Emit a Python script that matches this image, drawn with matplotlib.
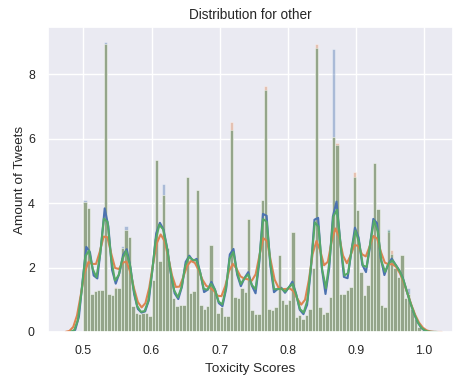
import numpy as np
import matplotlib
matplotlib.use("Agg")
import matplotlib.pyplot as plt
import seaborn as sns

# Histogram layout: 100 bins of width 0.005 from 0.5 to 1.0 (density scale)
bin_start = 0.5
bin_width = 0.005

# Shared bar heights per bin (density)
base_heights = [
    4.04, 3.85, 1.19, 1.27, 1.31, 1.31, 8.93, 1.19, 1.14, 1.35,
    1.35, 2.60, 3.15, 2.95, 0.80, 0.60, 0.57, 0.60, 0.58, 0.50,
    1.60, 5.33, 2.20, 4.25, 2.60, 1.80, 1.05, 0.80, 0.85, 0.85,
    4.80, 1.20, 1.27, 4.40, 0.83, 0.72, 0.80, 2.69, 1.30, 0.60,
    0.78, 0.50, 0.50, 6.26, 1.09, 1.04, 1.35, 1.24, 3.52, 0.67,
    0.57, 0.57, 4.09, 7.50, 0.72, 0.67, 0.78, 2.40, 1.00, 0.88,
    1.00, 3.10, 0.47, 0.52, 0.41, 0.52, 0.72, 2.00, 8.80, 0.78,
    0.57, 0.62, 1.09, 6.05, 5.80, 1.19, 1.19, 1.29, 1.40, 4.80,
    3.78, 1.86, 1.14, 1.45, 3.00, 5.23, 3.83, 0.83, 0.78, 3.10,
    2.43, 1.97, 1.72, 2.38, 1.04, 1.19, 0.70, 0.41, 0.15, 0.05,
]

# Bins where a series' bar differs from the shared heights
blue_diff = {0: 4.08, 6: 9.00, 11: 2.66, 12: 3.30, 23: 4.60, 73: 8.77, 89: 3.18, 95: 1.35}
orange_diff = {9: 1.40, 43: 6.52, 53: 7.62, 68: 8.93, 74: 5.85, 79: 4.97, 90: 2.55}
green_diff = {21: 5.35, 30: 4.82, 57: 2.40, 89: 3.16}

# Smoothing bandwidths of the density curves
bandwidths = {"blue": 0.0058, "orange": 0.0087, "green": 0.0063}

title = "Distribution for other"
x_label = "Toxicity Scores"
y_label = "Amount of Tweets"
x_ticks = [0.5, 0.6, 0.7, 0.8, 0.9, 1.0]
y_ticks = [0, 2, 4, 6, 8]


def heights_with(diff):
    vals = list(base_heights)
    for k, h in diff.items():
        vals[k] = h
    return np.array(vals)


def smoothed_density(vals, edges, bw):
    centers = edges[:-1] + np.diff(edges) / 2
    grid = np.linspace(edges[0] - 3 * bw, edges[-1] + 3 * bw, 100)
    w = vals * np.diff(edges)
    z = (grid[:, None] - centers[None, :]) / bw
    dens = (w[None, :] * np.exp(-0.5 * z ** 2)).sum(axis=1) / (bw * np.sqrt(2 * np.pi))
    return grid, dens


sns.set_theme(style="darkgrid")
plt.rcParams["font.family"] = ["Liberation Sans", "DejaVu Sans"]

fig = plt.figure(figsize=(4.53, 3.77), dpi=100)
ax = fig.add_axes([48 / 453, 45 / 377, 405 / 453, 305 / 377])

n = len(base_heights)
edges = bin_start + bin_width * np.arange(n + 1)
shared = np.array(base_heights)
palette = sns.color_palette()

series = [
    (heights_with(blue_diff), palette[0], bandwidths["blue"]),
    (heights_with(orange_diff), palette[1], bandwidths["orange"]),
    (heights_with(green_diff), palette[2], bandwidths["green"]),
]

for vals, col, bw in series:
    ax.bar(edges[:-1], vals, width=bin_width, align="edge", color=col,
           alpha=0.4, edgecolor="white", linewidth=0.6)
    grid, dens = smoothed_density(shared, edges, bw)
    ax.plot(grid, dens, color=col, lw=1.5)

ax.set_xlim(0.448, 1.0425)
ax.set_ylim(0, 9.46)
ax.set_xticks(x_ticks)
ax.set_xticklabels([f"{t:.1f}" for t in x_ticks])
ax.set_yticks(y_ticks)
ax.tick_params(labelsize=8.9)
ax.set_title(title, fontsize=9.8)
ax.set_xlabel(x_label, fontsize=9.7)
ax.set_ylabel(y_label, fontsize=9.7, labelpad=1.5)

fig.savefig("out.png", dpi=100)
